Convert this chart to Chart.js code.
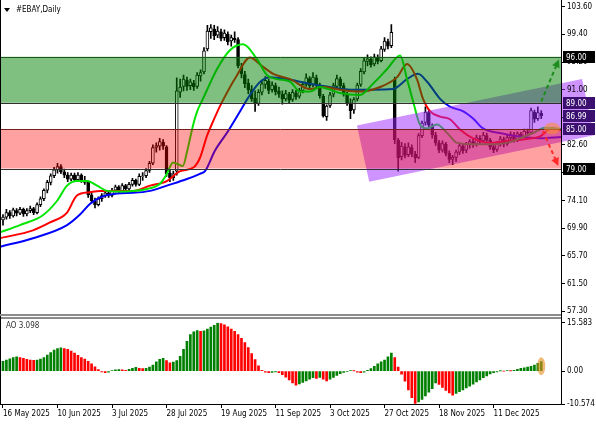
<!DOCTYPE html>
<html>
<head>
<meta charset="utf-8">
<script src="https://cdn.jsdelivr.net/npm/chart.js@4.4.0/dist/chart.umd.min.js"></script>
<style>
html, body { margin: 0; padding: 0; background: #fff; }
#wrap { position: relative; width: 596px; height: 425px; overflow: hidden; }
canvas { position: absolute; left: 0; }
#main { top: 0; }
#ao { top: 316px; }
</style>
</head>
<body>
<div id="wrap">
  <canvas id="main" width="596" height="318"></canvas>
  <canvas id="ao" width="596" height="109"></canvas>
</div>
<script>
// EBAY daily candles, bar index 0 = 16 May 2025
const opens = [71.2,71.6,72.3,71.8,72.6,72.2,72.8,72.1,72.6,72.9,72.3,73.5,74.4,75.7,76.9,77.9,78.8,79.3,78.5,78.0,
  77.4,78.0,77.3,78.0,77.2,76.9,75.0,74.1,73.5,74.4,74.9,75.3,74.9,75.7,76.2,75.6,76.4,75.9,76.6,77.2,
  76.6,77.8,77.9,78.7,79.8,82.2,82.4,83.0,82.3,78.3,77.6,78.6,90.6,91.5,92.4,91.6,92.0,91.5,93.1,93.7,
  97.2,99.8,100.2,99.3,99.8,98.9,99.4,98.4,98.8,98.6,94.4,93.3,92.0,91.0,89.7,88.9,90.6,91.8,92.3,91.0,
  91.6,90.8,90.3,89.6,90.3,89.5,90.5,90.0,90.9,91.8,92.7,91.7,92.8,91.7,90.0,86.9,88.6,90.3,91.5,92.6,
  91.6,90.2,89.0,87.9,89.6,91.8,93.7,95.3,95.6,94.9,95.9,95.4,97.1,98.3,97.7,92.6,83.3,80.8,82.3,81.1,
  82.2,81.2,80.7,84.0,86.0,87.5,85.5,84.1,82.9,81.8,82.7,81.3,80.4,80.7,81.5,82.4,81.8,82.6,83.1,82.7,
  83.6,83.2,84.0,83.3,82.3,81.9,82.8,83.4,82.8,83.7,84.1,83.4,84.2,83.9,84.6,84.5,87.6,86.6,87.4];
const highs = [72.0,72.8,72.6,73.0,72.9,73.1,73.0,72.9,73.3,73.1,73.8,74.7,75.9,77.2,78.2,79.2,79.8,79.6,78.9,78.4,
  78.3,78.3,78.4,78.2,77.8,77.1,75.4,74.5,74.7,75.2,75.6,75.6,76.0,76.5,76.4,76.7,76.6,76.9,77.5,77.4,
  78.2,78.4,79.0,80.1,82.6,82.9,83.6,83.4,82.5,78.8,78.6,92.8,92.6,93.2,92.9,92.6,92.4,93.6,94.0,97.4,
  100.8,100.9,100.8,100.6,100.2,100.1,99.8,99.3,99.8,98.9,95.0,93.8,92.6,91.6,90.8,91.0,92.4,93.0,92.6,92.2,
  92.0,91.4,90.8,90.9,90.6,91.0,90.9,91.2,92.2,93.4,93.0,93.6,93.2,92.0,90.3,88.7,90.6,92.0,93.2,92.9,
  92.0,90.6,89.6,89.8,92.0,94.2,95.8,96.3,96.0,96.4,96.3,97.6,98.9,98.7,100.9,92.9,83.6,83.0,82.8,82.9,
  82.6,81.6,84.3,86.2,88.4,87.9,85.8,84.5,83.3,83.2,83.0,81.7,81.0,81.8,82.9,82.8,83.0,83.4,83.6,84.1,
  84.0,84.5,84.4,83.6,82.7,83.1,83.9,83.8,84.1,84.6,84.5,84.6,84.5,85.0,85.0,88.2,87.9,88.4,87.8];
const lows = [70.4,71.3,71.4,71.6,71.8,72.0,71.7,71.8,72.3,72.0,72.1,73.2,74.1,75.3,76.5,77.6,78.3,78.2,77.6,77.0,
  77.1,77.0,77.1,76.9,76.6,74.6,73.8,73.0,73.3,74.0,74.6,74.6,74.7,75.4,75.3,75.4,75.6,75.7,76.3,76.3,
  76.4,77.2,77.6,78.4,79.6,81.5,81.8,81.9,77.8,77.0,77.2,78.0,89.8,90.8,90.9,91.0,90.9,91.2,92.3,93.4,
  96.9,98.8,98.6,98.9,98.4,98.5,97.8,97.6,98.2,94.3,92.8,91.3,90.4,89.2,87.7,88.6,90.2,91.2,90.4,90.6,
  90.2,89.8,88.8,89.3,88.9,89.2,89.5,89.7,90.5,91.5,91.2,91.4,91.4,89.7,86.8,86.3,88.3,89.9,91.1,91.2,
  90.0,88.6,86.6,87.4,89.3,91.5,93.4,94.6,94.4,94.6,94.9,95.2,96.8,97.2,97.4,82.8,78.6,80.3,80.6,80.8,
  80.8,79.9,80.5,83.7,85.6,85.2,83.6,82.5,81.4,81.5,80.9,79.9,79.6,80.1,81.1,81.3,81.4,82.1,82.2,82.4,
  82.7,82.9,82.9,81.9,81.4,81.6,82.4,82.3,82.5,83.3,83.0,83.1,83.4,83.6,84.0,84.3,86.0,86.3,86.6];
const closes = [71.6,72.3,71.8,72.7,72.2,72.8,72.1,72.6,72.9,72.3,73.5,74.4,75.7,76.9,77.9,78.8,79.3,78.5,78.0,77.4,
  78.0,77.3,78.0,77.2,76.9,75.0,74.1,73.5,74.4,74.9,75.3,74.9,75.7,76.2,75.6,76.4,75.9,76.6,77.2,76.6,
  77.8,77.9,78.7,79.8,82.2,82.5,83.1,82.4,78.2,77.6,78.2,90.8,91.4,92.6,91.5,92.2,91.4,93.2,93.6,96.9,
  99.9,100.4,99.2,99.9,98.8,99.6,98.3,98.9,98.6,94.6,93.4,91.9,91.0,89.6,88.9,90.6,91.9,92.4,90.9,91.7,
  90.7,90.3,89.6,90.4,89.4,90.6,89.9,90.9,91.8,92.8,91.6,92.9,91.8,90.1,87.0,88.5,90.2,91.6,92.7,91.6,
  90.3,89.0,87.8,89.5,91.7,93.8,95.4,95.7,94.8,96.0,95.3,97.2,98.4,97.6,99.7,83.4,80.6,82.4,81.0,82.3,
  81.2,80.6,84.0,85.9,87.6,85.6,84.1,82.9,81.8,82.8,81.3,80.4,80.7,81.5,82.5,81.7,82.7,83.1,82.6,83.7,
  83.1,84.1,83.3,82.3,81.8,82.8,83.5,82.7,83.7,84.2,83.4,84.3,83.8,84.7,84.4,87.8,86.5,87.5,86.99];

// Alligator lines, read at bar positions
const jawBars = [-0.9,8.8,18.8,22.6,25.5,28.5,33.5,38.2,43.2,48.1,54,57.8,59.3,62.2,66.1,69.6,72.5,75.5,78.4,84.3,
  90.1,96,101.9,108.6,114.5,118.6,121.8,124.5,128.3,131.2,135.1,138,140.9,145.9,150.9,157.7,163.8];
const jawVals = [67.1,68.4,70.4,72.0,73.6,74.6,75.2,75.3,75.6,76.4,77.4,78.2,78.6,81.7,84.7,87.7,90.2,92.2,92.9,92.5,
  91.9,91.4,91.0,91.0,91.1,92.6,93.4,92.2,89.6,88.4,87.7,86.6,85.1,84.4,83.9,83.6,83.8];
const teethBars = [-0.9,8.8,13.8,18.8,21.7,25.5,28.5,33.5,38.2,43.2,48.1,52,56,57.8,59.9,61.7,63.7,68.7,72.5,76,
  79.3,84.3,90.1,94,98.9,104.8,110.7,115.7,118.6,121.5,123.3,125.4,128.3,131.2,134.2,138,143,148,153.8,157.7,161.2,163.8];
const teethVals = [68.4,69.6,70.8,72.3,74.9,75.4,75.6,75.6,75.6,76.4,77.1,78.6,79.2,80.6,84.0,86.2,88.5,93.2,95.9,94.6,
  93.4,92.6,91.1,91.4,91.0,90.7,91.4,92.9,94.9,92.6,89.6,87.7,86.9,86.5,84.9,83.6,82.9,83.2,83.5,83.9,85.2,84.8];
const lipsBars = [-0.9,5,11.7,15.9,18.8,21.7,24.7,27.6,30.5,34.3,38.2,42.3,46.1,48.1,49.9,52.8,54,55,56,57,
  58.7,62.8,66.6,70.5,74.6,77.5,80.4,84.3,87.2,90.1,93,96,98.9,104.8,108.6,112.7,116.6,118.6,120.4,122.4,
  124.5,127.4,130.4,133.3,138,143,148,151.8,155.6,159.1,163.8];
const lipsVals = [69.3,70.4,71.9,74.1,76.4,77.1,77.1,76.4,75.6,75.5,75.6,75.9,76.7,78.2,79.9,79.4,81.5,83.8,86.0,87.7,
  89.6,94.1,97.0,97.9,95.6,93.2,92.6,92.2,90.7,90.7,91.4,91.0,90.5,90.2,91.9,94.1,96.2,92.6,89.2,85.7,
  85.1,85.7,84.4,82.9,82.7,82.7,82.9,83.6,84.4,85.2,85.0];

// Awesome Oscillator
const aoValues = [3.2,3.6,4.0,4.4,4.6,4.4,4.1,3.8,3.6,3.5,3.6,3.9,4.4,5.2,6.0,6.8,7.3,7.5,7.3,7.0,
  6.5,5.8,5.1,4.4,3.9,3.2,2.4,1.4,0.5,-0.2,-0.5,-0.3,0.2,0.4,0.5,0.4,0.3,0.6,0.9,1.2,
  0.9,0.8,0.9,1.3,2.0,3.0,3.8,4.1,3.4,2.7,2.9,3.4,4.8,7.0,9.6,11.8,12.7,13.1,12.8,13.0,
  13.6,14.2,14.8,15.583,15.3,14.9,14.3,13.6,12.8,11.8,10.6,9.2,7.6,5.7,3.7,1.7,0.3,-0.3,-0.5,-0.4,
  -0.2,-0.5,-1.1,-1.9,-2.8,-3.8,-4.5,-4.1,-3.6,-3.1,-2.6,-2.1,-2.3,-2.0,-2.6,-3.1,-2.6,-2.0,-1.4,-0.8,
  -0.4,-0.1,0.2,0.1,-0.3,-0.5,-0.3,0.3,0.8,1.6,2.4,3.0,3.6,4.6,5.8,4.4,1.3,-1.0,-3.2,-6.0,
  -8.5,-10.4,-9.9,-9.1,-8.0,-6.8,-5.6,-3.8,-4.3,-5.2,-6.2,-7.0,-7.7,-7.2,-6.6,-6.0,-5.4,-4.8,-4.2,-3.5,
  -2.8,-2.1,-1.5,-0.9,-0.5,-0.2,0.1,0.0,0.2,0.1,0.3,0.6,0.9,1.1,1.3,1.6,2.0,2.5,3.098];

// axes
const priceTicks = [103.6,99.4,95.2,91.0,86.8,82.6,78.4,74.1,69.9,65.7,61.5,57.3];
const aoTicks = [15.583,0,-10.574];
const aoTickLabels = ['15.583','0.00','-10.574'];
const dateTickIdx = [0,16,32,48,64,80,96,112,128,144];
const dateTickLabels = ['16 May 2025','10 Jun 2025','3 Jul 2025','28 Jul 2025','19 Aug 2025','11 Sep 2025',
  '3 Oct 2025','27 Oct 2025','18 Nov 2025','11 Dec 2025'];

// drawn objects
const greenZone = [96.00, 89.00];
const redZone = [85.00, 79.00];
const channelBars = [103.9, 170, 173.5, 107.5];
const channelPrices = [85.56, 92.63, 84.06, 77.0];
const upArrow = [[158, 89.2], [163.2, 95.6]];
const downArrow = [[158.5, 84.7], [163, 79.4]];
const priceBoxes = [
  { v: 96.00, bg: '#000000' },
  { v: 89.00, bg: '#3b1070' },
  { v: 86.99, bg: '#3b1070' },
  { v: 85.00, bg: '#3b1070' },
  { v: 79.00, bg: '#000000' }
];

const FONT = '"DejaVu Sans Condensed", "DejaVu Sans", sans-serif';
const xMin = -0.88, xMax = 163.8;

const toPts = (bars, vals) => bars.map((b, k) => ({ x: b, y: vals[k] }));

function arrow(ctx, x1, y1, x2, y2, color) {
  ctx.strokeStyle = color;
  ctx.fillStyle = color;
  ctx.lineWidth = 2;
  ctx.setLineDash([4, 3]);
  const ang = Math.atan2(y2 - y1, x2 - x1);
  ctx.beginPath();
  ctx.moveTo(x1, y1);
  ctx.lineTo(x2 - 6 * Math.cos(ang), y2 - 6 * Math.sin(ang));
  ctx.stroke();
  ctx.setLineDash([]);
  ctx.beginPath();
  ctx.moveTo(x2, y2);
  ctx.lineTo(x2 - 8 * Math.cos(ang) + 4 * Math.sin(ang), y2 - 8 * Math.sin(ang) - 4 * Math.cos(ang));
  ctx.lineTo(x2 - 8 * Math.cos(ang) - 4 * Math.sin(ang), y2 - 8 * Math.sin(ang) + 4 * Math.cos(ang));
  ctx.closePath();
  ctx.fill();
}

const mainOverlay = {
  id: 'mainOverlay',
  afterDatasetsDraw(chart) {
    const { ctx, chartArea: a, scales: { x, y } } = chart;
    ctx.save();
    // channel (under the zones, over the candles)
    ctx.fillStyle = 'rgba(160,40,255,0.5)';
    ctx.beginPath();
    channelBars.forEach((cb, k) => {
      const px = x.getPixelForValue(cb), py = y.getPixelForValue(channelPrices[k]);
      if (k === 0) ctx.moveTo(px, py); else ctx.lineTo(px, py);
    });
    ctx.closePath();
    ctx.fill();
    // level lines
    ctx.strokeStyle = '#303030';
    ctx.lineWidth = 1;
    [greenZone[0], greenZone[1], redZone[0], redZone[1]].forEach(v => {
      const py = Math.round(y.getPixelForValue(v)) + 0.5;
      ctx.beginPath(); ctx.moveTo(a.left, py); ctx.lineTo(a.right, py); ctx.stroke();
    });
    // zones
    let t = y.getPixelForValue(greenZone[0]), b = y.getPixelForValue(greenZone[1]);
    ctx.fillStyle = 'rgba(0,128,0,0.5)';
    ctx.fillRect(a.left, t, a.right - a.left, b - t);
    t = y.getPixelForValue(redZone[0]); b = y.getPixelForValue(redZone[1]);
    ctx.fillStyle = 'rgba(255,0,0,0.37)';
    ctx.fillRect(a.left, t, a.right - a.left, b - t);
    // arrows
    arrow(ctx, x.getPixelForValue(upArrow[0][0]), y.getPixelForValue(upArrow[0][1]),
      x.getPixelForValue(upArrow[1][0]), y.getPixelForValue(upArrow[1][1]), '#1e8c1e');
    arrow(ctx, x.getPixelForValue(downArrow[0][0]), y.getPixelForValue(downArrow[0][1]),
      x.getPixelForValue(downArrow[1][0]), y.getPixelForValue(downArrow[1][1]), '#ff2a2a');
    // highlight
    ctx.fillStyle = 'rgba(255,140,40,0.55)';
    ctx.beginPath();
    ctx.ellipse(x.getPixelForValue(161.2), y.getPixelForValue(85.1), 8, 6, 0, 0, Math.PI * 2);
    ctx.fill();
    ctx.restore();
  },
  afterDraw(chart) {
    const { ctx, chartArea: a, scales: { y } } = chart;
    ctx.save();
    // frame
    ctx.strokeStyle = '#000';
    ctx.lineWidth = 1;
    ctx.beginPath();
    ctx.moveTo(a.right + 0.5, 0); ctx.lineTo(a.right + 0.5, 318);
    ctx.moveTo(0.5, 0); ctx.lineTo(0.5, 318);
    ctx.stroke();
    ctx.strokeStyle = '#8c8c8c';
    ctx.lineWidth = 2;
    ctx.beginPath(); ctx.moveTo(0, 315); ctx.lineTo(a.right, 315); ctx.stroke();
    // price boxes
    ctx.font = '8px ' + FONT;
    ctx.textBaseline = 'middle';
    priceBoxes.forEach(p => {
      const py = Math.round(y.getPixelForValue(p.v));
      ctx.fillStyle = p.bg;
      ctx.fillRect(a.right + 2, py - 6, 32, 12);
      ctx.fillStyle = '#fff';
      ctx.fillText(p.v.toFixed(2), a.right + 5, py + 0.5);
    });
    // title
    ctx.fillStyle = '#000';
    ctx.beginPath(); ctx.moveTo(4, 8); ctx.lineTo(10, 8); ctx.lineTo(7, 12); ctx.closePath(); ctx.fill();
    ctx.font = '8px ' + FONT;
    ctx.fillText('#EBAY,Daily', 16, 10);
    ctx.restore();
  }
};

new Chart(document.getElementById('main'), {
  type: 'bar',
  data: {
    datasets: [
      { type: 'line', data: toPts(lipsBars, lipsVals), borderColor: '#00e600', borderWidth: 2, pointRadius: 0, cubicInterpolationMode: 'monotone', order: 0 },
      { type: 'line', data: toPts(teethBars, teethVals), borderColor: '#ff0000', borderWidth: 2, pointRadius: 0, cubicInterpolationMode: 'monotone', order: 0 },
      { type: 'line', data: toPts(jawBars, jawVals), borderColor: '#0000ff', borderWidth: 2, pointRadius: 0, cubicInterpolationMode: 'monotone', order: 0 },
      { data: closes.map((c, i) => ({ x: i, y: [opens[i], c] })),
        backgroundColor: closes.map((c, i) => c >= opens[i] ? '#ffffff' : '#000000'),
        borderColor: '#000', borderWidth: 1, borderSkipped: false, barThickness: 3, grouped: false, order: 1 },
      { data: highs.map((h, i) => ({ x: i, y: [lows[i], h] })),
        backgroundColor: '#000', barThickness: 1, grouped: false, order: 2 }
    ]
  },
  options: {
    responsive: false, animation: false, devicePixelRatio: 1,
    layout: { padding: { left: 0, right: 0, top: 4, bottom: 6 } },
    plugins: { legend: { display: false }, tooltip: { enabled: false } },
    scales: {
      x: { type: 'linear', min: xMin, max: xMax, offset: false, grid: { offset: false }, display: false },
      y: {
        position: 'right', min: 57.3, max: 103.6,
        afterFit(s) { s.width = 35; },
        afterBuildTicks(s) { s.ticks = priceTicks.map(v => ({ value: v })); },
        ticks: { autoSkip: false, z: 1, padding: 2, color: '#000', font: { family: FONT, size: 8 }, callback: v => v.toFixed(2) },
        grid: { drawOnChartArea: false, drawTicks: true, tickLength: 4, color: '#000' },
        border: { color: '#000' }
      }
    }
  },
  plugins: [mainOverlay]
});

const aoOverlay = {
  id: 'aoOverlay',
  afterDatasetsDraw(chart) {
    const { ctx, scales: { x, y } } = chart;
    ctx.save();
    ctx.fillStyle = 'rgba(230,140,30,0.6)';
    ctx.beginPath();
    ctx.ellipse(x.getPixelForValue(158), y.getPixelForValue(1.6), 4, 9, 0, 0, Math.PI * 2);
    ctx.fill();
    ctx.restore();
  },
  afterDraw(chart) {
    const { ctx, chartArea: a } = chart;
    ctx.save();
    ctx.strokeStyle = '#8c8c8c';
    ctx.lineWidth = 2;
    ctx.beginPath(); ctx.moveTo(0, 2); ctx.lineTo(a.right, 2); ctx.stroke();
    ctx.strokeStyle = '#000';
    ctx.lineWidth = 1;
    ctx.beginPath();
    ctx.moveTo(0.5, 0); ctx.lineTo(0.5, a.bottom);
    ctx.moveTo(a.right + 0.5, 0); ctx.lineTo(a.right + 0.5, a.bottom);
    ctx.stroke();
    ctx.fillStyle = '#333';
    ctx.font = '8px ' + FONT;
    ctx.textBaseline = 'middle';
    ctx.fillText('AO ' + aoValues[aoValues.length - 1].toFixed(3), 6, 10);
    ctx.restore();
  }
};

new Chart(document.getElementById('ao'), {
  type: 'bar',
  data: {
    datasets: [{
      data: aoValues.map((v, i) => ({ x: i, y: v })),
      backgroundColor: aoValues.map((v, i) => (i > 0 && v < aoValues[i - 1]) ? '#ff0000' : '#008000'),
      barThickness: 2, grouped: false
    }]
  },
  options: {
    responsive: false, animation: false, devicePixelRatio: 1,
    layout: { padding: { left: 0, right: 0, top: 6, bottom: 0 } },
    plugins: { legend: { display: false }, tooltip: { enabled: false } },
    scales: {
      x: {
        type: 'linear', min: xMin, max: xMax, offset: false,
        afterFit(s) { s.height = 21; },
        afterBuildTicks(s) { s.ticks = dateTickIdx.map(v => ({ value: v })); },
        ticks: { autoSkip: false, maxRotation: 0, align: 'start', padding: 1, color: '#000', font: { family: FONT, size: 8 },
          callback: v => dateTickLabels[dateTickIdx.indexOf(v)] },
        grid: { drawOnChartArea: false, offset: false, tickLength: 4, color: '#000' },
        border: { color: '#000' }
      },
      y: {
        position: 'right', min: -10.574, max: 15.583,
        afterFit(s) { s.width = 35; },
        afterBuildTicks(s) { s.ticks = aoTicks.map(v => ({ value: v })); },
        ticks: { autoSkip: false, padding: 2, color: '#000', font: { family: FONT, size: 8 },
          callback: v => aoTickLabels[aoTicks.indexOf(v)] },
        grid: { drawOnChartArea: false, tickLength: 4, color: '#000' },
        border: { color: '#000' }
      }
    }
  },
  plugins: [aoOverlay]
});
</script>
</body>
</html>
